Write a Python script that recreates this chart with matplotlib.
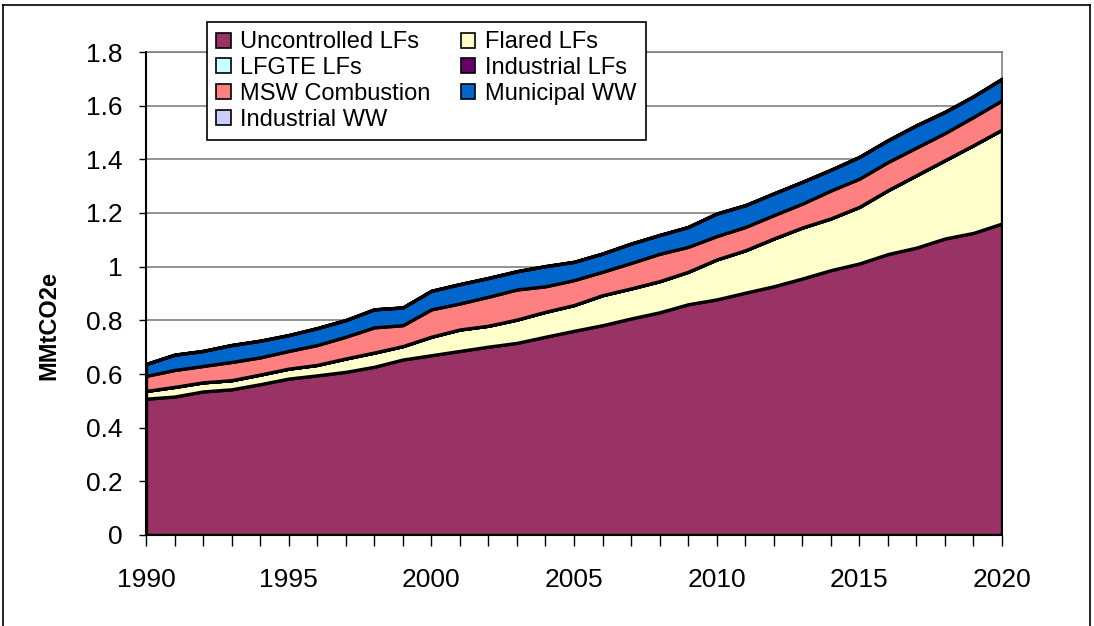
import matplotlib
matplotlib.use("Agg")
import matplotlib.pyplot as plt
from matplotlib.patches import Patch
from matplotlib.lines import Line2D

plt.rcParams['font.family'] = ['Liberation Sans', 'DejaVu Sans']

years = list(range(1990, 2021))

uncontrolled = [0.508, 0.516, 0.535, 0.543, 0.562, 0.583, 0.595, 0.608, 0.627, 0.654,
                0.670, 0.686, 0.702, 0.716, 0.739, 0.761, 0.782, 0.807, 0.830, 0.860,
                0.878, 0.903, 0.927, 0.956, 0.987, 1.012, 1.047, 1.071, 1.105, 1.126, 1.161]
flared = [0.029, 0.036, 0.034, 0.034, 0.036, 0.037, 0.039, 0.050, 0.053, 0.050,
          0.069, 0.080, 0.078, 0.087, 0.093, 0.096, 0.112, 0.112, 0.116, 0.121,
          0.149, 0.158, 0.178, 0.190, 0.193, 0.211, 0.238, 0.270, 0.292, 0.327, 0.350]
lfgte = [0.0] * 31
industrial_lf = [0.0] * 31
msw = [0.056, 0.063, 0.061, 0.068, 0.064, 0.066, 0.074, 0.081, 0.094, 0.078,
       0.102, 0.097, 0.108, 0.112, 0.095, 0.093, 0.087, 0.095, 0.102, 0.093,
       0.087, 0.087, 0.087, 0.089, 0.104, 0.105, 0.105, 0.103, 0.101, 0.105, 0.109]
municipal_ww = [0.044, 0.057, 0.056, 0.063, 0.062, 0.059, 0.063, 0.062, 0.067, 0.066,
                0.069, 0.072, 0.070, 0.068, 0.075, 0.068, 0.068, 0.072, 0.070, 0.074,
                0.084, 0.081, 0.081, 0.081, 0.077, 0.081, 0.081, 0.083, 0.079, 0.077, 0.080]
industrial_ww = [0.0] * 31

labels = ["Uncontrolled LFs", "Flared LFs", "LFGTE LFs", "Industrial LFs",
          "MSW Combustion", "Municipal WW", "Industrial WW"]
colors = ["#993366", "#FFFFCC", "#CCFFFF", "#660066", "#FF8080", "#0066CC", "#CCCCFF"]
yticks = [0, 0.2, 0.4, 0.6, 0.8, 1, 1.2, 1.4, 1.6, 1.8]
ytick_labels = ["0", "0.2", "0.4", "0.6", "0.8", "1", "1.2", "1.4", "1.6", "1.8"]
xlabel_years = [1990, 1995, 2000, 2005, 2010, 2015, 2020]

fig = plt.figure(figsize=(10.94, 6.26), dpi=100)
ax = fig.add_axes([146/1094, 1 - 535/626, (1002-146)/1094, (535-52)/626])

series = [uncontrolled, flared, lfgte, industrial_lf, msw, municipal_ww, industrial_ww]
ax.stackplot(years, *series, colors=colors, edgecolor="black", linewidth=2.4, zorder=3)

ax.set_xlim(1990, 2020)
ax.set_ylim(0, 1.8)
ax.set_yticks(yticks)
ax.set_yticklabels(ytick_labels, fontsize=19)
ax.set_xticks(years)
ax.set_xticklabels([str(y) if y in xlabel_years else "" for y in years], fontsize=19)
ax.tick_params(axis='x', direction='out', length=8, width=1, pad=16, color="black")
ax.tick_params(axis='y', direction='out', length=5, width=1, pad=12, color="black")
ax.yaxis.grid(True, color="#808080", linewidth=1.2, zorder=0)
ax.set_axisbelow(True)
for s in ["top", "right"]:
    ax.spines[s].set_color("#808080")
    ax.spines[s].set_linewidth(1.2)
for s in ["left", "bottom"]:
    ax.spines[s].set_color("black")
    ax.spines[s].set_linewidth(1.5)
    ax.spines[s].set_zorder(4)

ax.set_ylabel("MMtCO2e", fontsize=17, fontweight="bold")
ax.yaxis.set_label_coords((60 - 146) / 856, (535 - 326) / 483)

handles = [Patch(facecolor=c, edgecolor="black", linewidth=1.2) for c in colors]
order = [0, 2, 4, 6, 1, 3, 5]
leg = ax.legend([handles[i] for i in order], [labels[i] for i in order],
                ncol=2, loc="upper left", bbox_to_anchor=((207-146)/856, 1 + (52-22)/483),
                fontsize=17, frameon=True, fancybox=False, framealpha=1,
                edgecolor="black", handlelength=0.6, handleheight=0.6,
                handletextpad=0.4, labelspacing=0.16, columnspacing=1.3,
                borderpad=0.4, borderaxespad=0)
leg.get_frame().set_linewidth(1.2)
leg.set_zorder(10)

# outer chart border
fig.add_artist(Line2D([3/1094, 3/1094], [0, 1 - 5/626], transform=fig.transFigure, color="black", lw=1.2))
fig.add_artist(Line2D([3/1094, 1090/1094], [1 - 5/626, 1 - 5/626], transform=fig.transFigure, color="black", lw=1.2))
fig.add_artist(Line2D([1090/1094, 1090/1094], [0, 1 - 5/626], transform=fig.transFigure, color="black", lw=1.2))

fig.savefig("out.png", dpi=100)
